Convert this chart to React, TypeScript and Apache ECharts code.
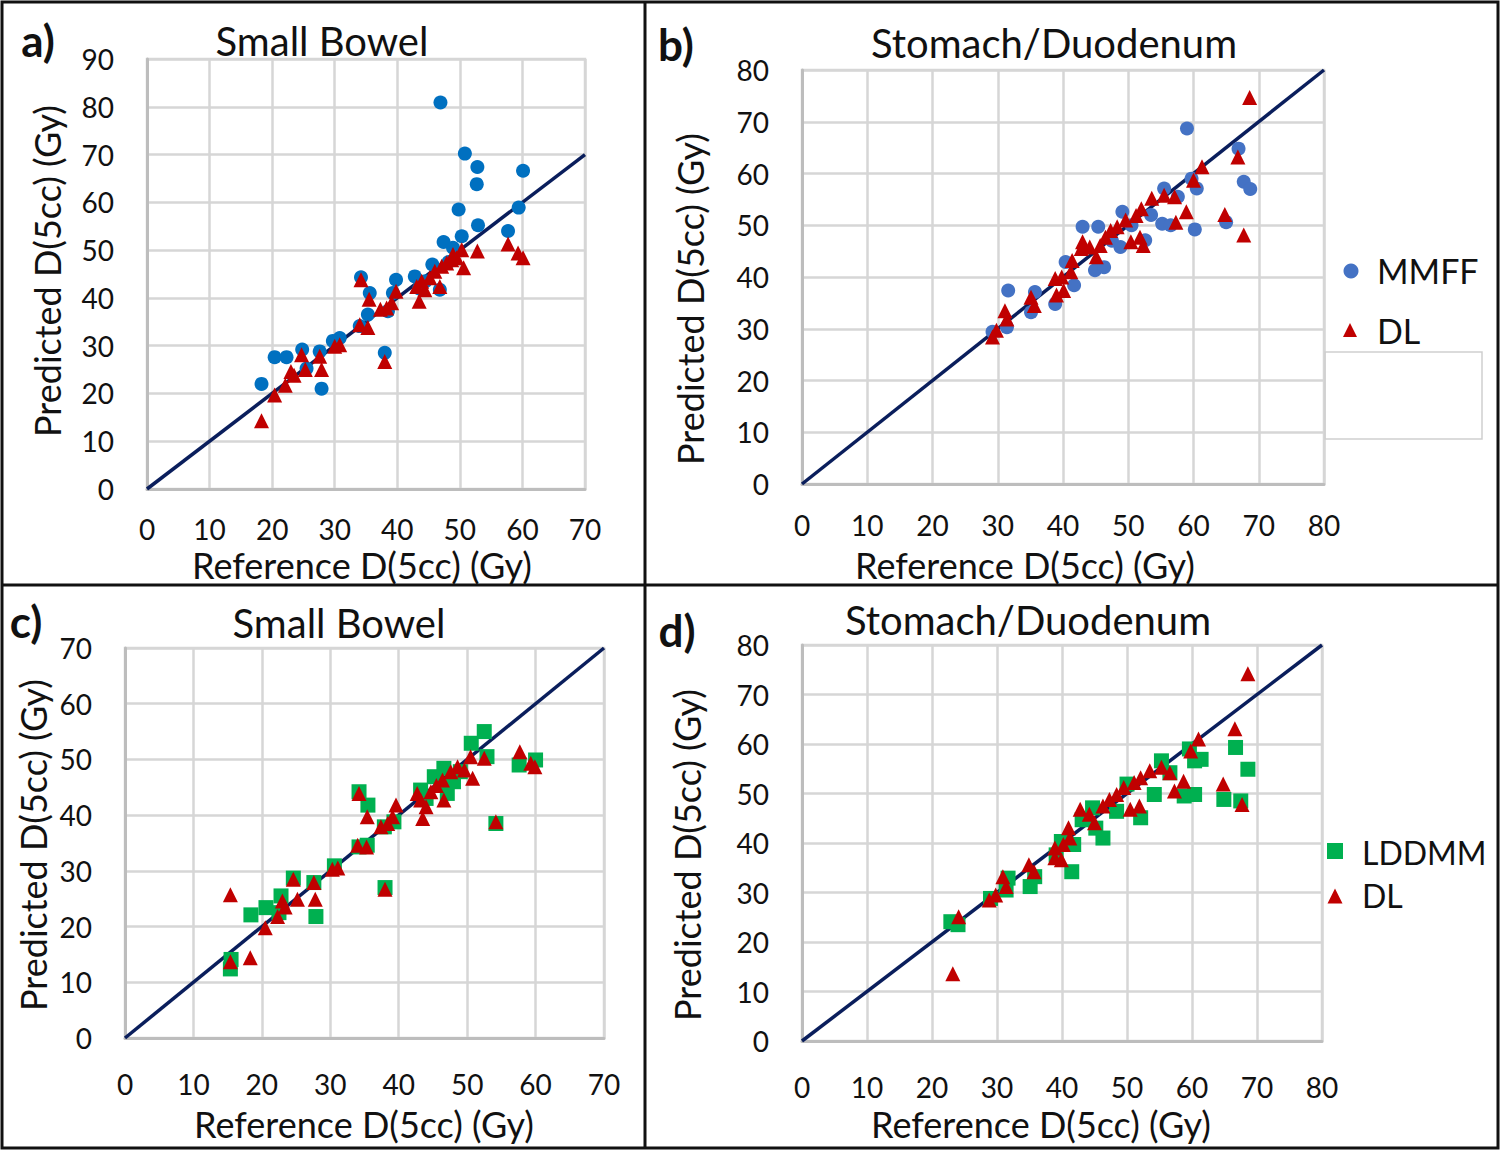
import React, { useEffect, useRef } from "react";
import * as echarts from "echarts";

// ---------- data (Reference D(5cc), Predicted D(5cc)) ----------
const smallBowelMaxA = 90;
const smallBowelMaxX = 70;
const smallBowelMaxC = 70;
const stomachMax = 80;

const smallBowelMMFF: number[][] = [
  [18.3, 22.0], [20.4, 27.6], [22.3, 27.6], [24.8, 29.2], [25.5, 25.2], [27.6, 28.8], [27.9, 21.0],
  [29.7, 31.0], [30.8, 31.6], [34.0, 34.1], [34.2, 44.3], [35.3, 36.5], [35.6, 41.0], [38.0, 28.5],
  [38.5, 37.2], [39.3, 41.0], [39.8, 43.8], [42.8, 44.5], [43.5, 42.0], [44.5, 43.5], [45.6, 47.0],
  [46.8, 41.7], [46.9, 80.9], [47.4, 51.7], [48.2, 47.5], [48.9, 50.5], [49.8, 58.5], [50.3, 52.9],
  [50.8, 70.2], [52.7, 63.8], [52.8, 67.4], [52.9, 55.2], [57.7, 54.0], [59.4, 58.9], [60.1, 66.6],
];
const smallBowelDL_A: number[][] = [
  [18.3, 14.3], [20.4, 19.7], [22.1, 21.7], [23.0, 24.6], [23.5, 23.8], [24.7, 28.1], [25.3, 25.0],
  [27.6, 27.8], [27.9, 25.0], [30.0, 29.9], [30.8, 30.2], [34.0, 34.4], [34.2, 43.8], [35.3, 33.8],
  [35.5, 39.7], [37.3, 37.6], [38.0, 26.7], [38.3, 37.9], [39.1, 39.0], [39.8, 41.4], [43.1, 42.4],
  [43.5, 39.3], [43.9, 43.5], [44.4, 41.7], [45.2, 44.2], [46.0, 45.6], [46.8, 42.4], [47.1, 46.6],
  [47.9, 47.3], [48.7, 48.0], [48.9, 49.1], [49.5, 48.4], [50.3, 50.1], [50.6, 46.3], [52.8, 49.8],
  [57.7, 51.3], [59.3, 49.4], [60.1, 48.4],
];
const stomachMMFF: number[][] = [
  [29.2, 29.4], [31.4, 30.3], [31.6, 37.4], [35.1, 33.2], [35.7, 37.1], [38.8, 34.8], [40.4, 42.9],
  [41.7, 38.4], [43.0, 49.7], [44.9, 41.3], [45.4, 49.7], [46.3, 41.9], [47.5, 47.0], [48.8, 45.8],
  [49.1, 52.6], [50.5, 50.0], [52.6, 47.1], [53.5, 52.0], [55.2, 50.3], [55.5, 57.1], [56.5, 50.0],
  [57.6, 55.5], [59.0, 68.7], [59.7, 59.0], [60.2, 49.2], [60.5, 57.1], [65.0, 50.6], [66.9, 64.8],
  [67.7, 58.4], [68.7, 57.0],
];
const stomachDL_B: number[][] = [
  [29.2, 28.4], [29.8, 29.7], [31.1, 33.5], [31.4, 31.9], [35.1, 36.1], [35.6, 34.5], [38.8, 39.7],
  [39.0, 36.5], [39.8, 40.0], [40.1, 37.4], [41.2, 41.0], [41.4, 43.2], [42.8, 45.5], [43.0, 46.8],
  [44.1, 45.8], [45.1, 43.9], [45.7, 46.1], [46.5, 47.7], [47.3, 49.0], [48.3, 49.7], [49.6, 51.0],
  [50.4, 46.8], [51.2, 51.9], [51.8, 47.7], [52.0, 53.2], [52.3, 46.1], [53.6, 55.2], [55.5, 55.8],
  [57.1, 55.5], [57.3, 50.6], [58.9, 52.6], [60.0, 58.7], [61.3, 61.3], [64.8, 52.1], [66.8, 63.2],
  [67.7, 48.1], [68.6, 74.7],
];
const smallBowelLDDMM: number[][] = [
  [15.4, 12.4], [15.5, 14.1], [18.4, 22.1], [20.6, 23.4], [22.5, 22.5], [22.8, 25.5], [24.6, 28.7],
  [27.6, 27.9], [27.9, 21.8], [30.6, 30.9], [34.2, 34.3], [34.2, 44.2], [35.4, 34.6], [35.5, 41.8],
  [37.9, 37.9], [38.0, 27.0], [39.3, 38.8], [43.2, 44.5], [44.0, 43.0], [45.2, 46.9], [46.6, 48.4],
  [47.1, 43.9], [48.0, 46.0], [49.0, 47.8], [50.6, 52.9], [52.5, 55.0], [52.9, 50.5], [54.2, 38.5],
  [57.6, 49.0], [60.0, 49.9],
];
const smallBowelDL_C: number[][] = [
  [15.4, 25.7], [15.4, 13.7], [18.3, 14.4], [20.5, 19.8], [22.3, 21.8], [23.0, 24.6], [23.4, 23.5],
  [24.6, 28.5], [25.2, 24.9], [27.6, 27.9], [27.8, 24.9], [30.3, 30.3], [31.1, 30.5], [34.0, 34.6],
  [34.2, 43.9], [35.3, 34.3], [35.4, 39.7], [37.4, 37.9], [38.0, 26.7], [38.4, 38.5], [39.1, 39.7],
  [39.6, 41.8], [42.7, 43.9], [43.2, 42.7], [43.5, 39.4], [44.0, 41.5], [44.7, 44.2], [45.5, 45.3],
  [46.4, 46.3], [46.6, 42.7], [47.6, 47.8], [48.6, 48.7], [49.6, 48.1], [50.5, 50.5], [50.8, 46.6],
  [52.5, 50.2], [54.2, 38.8], [57.7, 51.4], [59.3, 49.3], [59.9, 48.7],
];
const stomachLDDMM: number[][] = [
  [22.9, 24.1], [24.0, 23.5], [29.0, 28.8], [31.4, 30.5], [31.7, 32.9], [35.1, 31.2], [35.8, 33.2],
  [39.1, 37.6], [39.9, 40.3], [41.5, 34.2], [41.8, 39.7], [43.1, 44.7], [44.7, 47.1], [45.2, 43.0],
  [46.3, 41.0], [48.4, 46.4], [50.0, 51.9], [52.1, 45.1], [54.2, 49.8], [55.3, 56.6], [56.6, 54.2],
  [58.8, 49.5], [59.6, 59.0], [60.4, 49.8], [60.4, 56.6], [61.4, 56.9], [64.9, 48.8], [66.7, 59.3],
  [67.5, 48.5], [68.6, 54.9],
];
const stomachDL_D: number[][] = [
  [23.2, 13.6], [24.1, 25.1], [28.8, 28.5], [29.8, 29.5], [30.9, 33.2], [31.4, 31.2], [34.9, 35.6],
  [35.7, 34.2], [38.9, 37.0], [38.9, 39.0], [39.9, 36.6], [40.2, 39.7], [41.0, 43.1], [41.2, 41.0],
  [42.8, 46.8], [44.2, 45.8], [45.0, 44.1], [46.3, 47.5], [47.3, 48.8], [48.4, 49.8], [49.5, 51.2],
  [50.5, 46.8], [51.1, 52.2], [51.9, 47.5], [52.1, 53.2], [53.5, 54.6], [55.3, 55.3], [56.6, 54.2],
  [57.3, 50.5], [58.7, 52.5], [59.8, 58.6], [61.0, 61.0], [64.8, 51.9], [66.6, 63.1], [67.7, 47.8],
  [68.6, 74.2],
];
const identityA = [[0, 0], [70, 70]];
const identityB = [[0, 0], [80, 80]];

const panelLetters = ["a)", "b)", "c)", "d)"];
const panelTitles = ["Small Bowel", "Stomach/Duodenum", "Small Bowel", "Stomach/Duodenum"];
const xTitle = "Reference D(5cc) (Gy)";
const yTitle = "Predicted D(5cc) (Gy)";

// ---------- styling ----------
const FONT = 'Lato, "Open Sans", sans-serif';
const BLUE_A = "#0070C0";
const BLUE_B = "#4472C4";
const RED = "#C00000";
const GREEN = "#00B050";
const NAVY = "#0A1E5C";
const GRIDC = "#D6D6D6";
const AXISC = "#BDBDBD";

const grids = [
  { left: 147, top: 59, width: 438, height: 430 },
  { left: 802, top: 70, width: 522, height: 414 },
  { left: 125, top: 648, width: 479, height: 390 },
  { left: 802, top: 645, width: 520, height: 396 },
];

function xAxis(i: number, max: number, margin = 32) {
  return {
    type: "value", gridIndex: i, min: 0, max, interval: 10,
    axisLine: { show: true, onZero: false, lineStyle: { color: AXISC, width: 3 } },
    axisTick: { show: false },
    splitLine: { show: true, lineStyle: { color: GRIDC, width: 2.5 } },
    axisLabel: { fontFamily: FONT, fontSize: 28, color: "#111", margin, lineHeight: 28 },
  };
}
function yAxis(i: number, max: number) {
  return {
    type: "value", gridIndex: i, min: 0, max, interval: 10,
    axisLine: { show: true, onZero: false, lineStyle: { color: AXISC, width: 3 } },
    axisTick: { show: false },
    splitLine: { show: true, lineStyle: { color: GRIDC, width: 2.5 } },
    axisLabel: { fontFamily: FONT, fontSize: 28, color: "#111", margin: 33 },
  };
}
function scatter(name: string, i: number, data: number[][], color: string, symbol: string, size: number) {
  return {
    type: "scatter", name, xAxisIndex: i, yAxisIndex: i, data, symbol, symbolSize: size,
    itemStyle: { color, opacity: 1 }, z: 3,
  };
}
function diag(i: number, data: number[][]) {
  return {
    type: "line", xAxisIndex: i, yAxisIndex: i, data, symbol: "none", silent: true, z: 2,
    lineStyle: { color: NAVY, width: 3.5 },
  };
}
function txt(text: string, x: number, y: number, size: number, opts: any = {}) {
  return {
    type: "text", x, y, rotation: opts.rotation || 0, z: 10,
    style: {
      text, fill: "#111", fontFamily: FONT, fontSize: size, fontWeight: opts.bold ? "bold" : "normal",
      textAlign: opts.align || "center", align: opts.align || "center",
      textVerticalAlign: "middle", verticalAlign: "middle", lineHeight: opts.lh || size,
    },
  };
}
function tri(cx: number, cy: number, s: number) {
  return {
    type: "polygon", z: 10,
    shape: { points: [[cx, cy - s / 2], [cx + s / 2, cy + s / 2], [cx - s / 2, cy + s / 2]] },
    style: { fill: RED },
  };
}

export default function App() {
  const ref = useRef<HTMLDivElement>(null);
  useEffect(() => {
    if (!ref.current) return;
    const chart = echarts.init(ref.current, undefined, { renderer: "svg" });
    const option: any = {
      animation: false,
      backgroundColor: "#fff",
      grid: grids.map((g) => ({ ...g, show: true, borderColor: GRIDC, borderWidth: 2.5, containLabel: false })),
      xAxis: [xAxis(0, smallBowelMaxX, 26), xAxis(1, stomachMax, 27), xAxis(2, smallBowelMaxX), xAxis(3, stomachMax)],
      yAxis: [yAxis(0, smallBowelMaxA), yAxis(1, stomachMax), yAxis(2, smallBowelMaxC), yAxis(3, stomachMax)],
      series: [
        diag(0, identityA),
        scatter("MMFF (a)", 0, smallBowelMMFF, BLUE_A, "circle", 14),
        scatter("DL (a)", 0, smallBowelDL_A, RED, "triangle", 15),
        diag(1, identityB),
        scatter("MMFF", 1, stomachMMFF, BLUE_B, "circle", 14),
        scatter("DL", 1, stomachDL_B, RED, "triangle", 15),
        diag(2, identityA),
        scatter("LDDMM (c)", 2, smallBowelLDDMM, GREEN, "rect", 15),
        scatter("DL (c)", 2, smallBowelDL_C, RED, "triangle", 15),
        diag(3, identityB),
        scatter("LDDMM", 3, stomachLDDMM, GREEN, "rect", 15),
        scatter("DL (d)", 3, stomachDL_D, RED, "triangle", 15),
      ],
      graphic: [
        // frame and dividers
        { type: "rect", shape: { x: 2, y: 2, width: 1496, height: 1146 }, style: { fill: "none", stroke: "#111", lineWidth: 3 }, z: 20 },
        { type: "line", shape: { x1: 645, y1: 2, x2: 645, y2: 1148 }, style: { stroke: "#111", lineWidth: 3 }, z: 20 },
        { type: "line", shape: { x1: 2, y1: 585, x2: 1498, y2: 585 }, style: { stroke: "#111", lineWidth: 3 }, z: 20 },
        // panel letters
        txt(panelLetters[0], 38, 40, 44, { bold: true }),
        txt(panelLetters[1], 676, 44, 44, { bold: true }),
        txt(panelLetters[2], 26, 621, 44, { bold: true }),
        txt(panelLetters[3], 677, 630, 44, { bold: true }),
        // titles
        txt(panelTitles[0], 322, 41, 40),
        txt(panelTitles[1], 1054, 43, 40),
        txt(panelTitles[2], 339, 623, 40),
        txt(panelTitles[3], 1028, 620, 40),
        // x titles
        txt(xTitle, 362, 565, 36, { lh: 30 }),
        txt(xTitle, 1025, 565, 36, { lh: 30 }),
        txt(xTitle, 364, 1124, 36),
        txt(xTitle, 1041, 1124, 36),
        // y titles
        txt(yTitle, 47, 271, 36, { rotation: Math.PI / 2 }),
        txt(yTitle, 690, 299, 36, { rotation: Math.PI / 2 }),
        txt(yTitle, 33, 845, 36, { rotation: Math.PI / 2 }),
        txt(yTitle, 687, 855, 36, { rotation: Math.PI / 2 }),
        // legend b
        { type: "circle", shape: { cx: 1351, cy: 271, r: 7.5 }, style: { fill: BLUE_B }, z: 10 },
        txt("MMFF", 1377, 270, 34, { align: "left" }),
        tri(1350, 330, 14),
        txt("DL", 1377, 330, 34, { align: "left" }),
        { type: "rect", shape: { x: 1325, y: 352, width: 157, height: 87 }, style: { fill: "none", stroke: "#CFCFCF", lineWidth: 1.5 }, z: 10 },
        // legend d
        { type: "rect", shape: { x: 1327, y: 843, width: 16, height: 16 }, style: { fill: GREEN }, z: 10 },
        txt("LDDMM", 1362, 852, 32, { align: "left" }),
        tri(1335, 896, 15),
        txt("DL", 1362, 895, 32, { align: "left" }),
      ],
    };
    chart.setOption(option);
    return () => chart.dispose();
  }, []);
  return (
    <div
      ref={ref}
      style={{ position: "fixed", left: 0, top: 0, width: 1500, height: 1150, background: "#fff" }}
    />
  );
}
